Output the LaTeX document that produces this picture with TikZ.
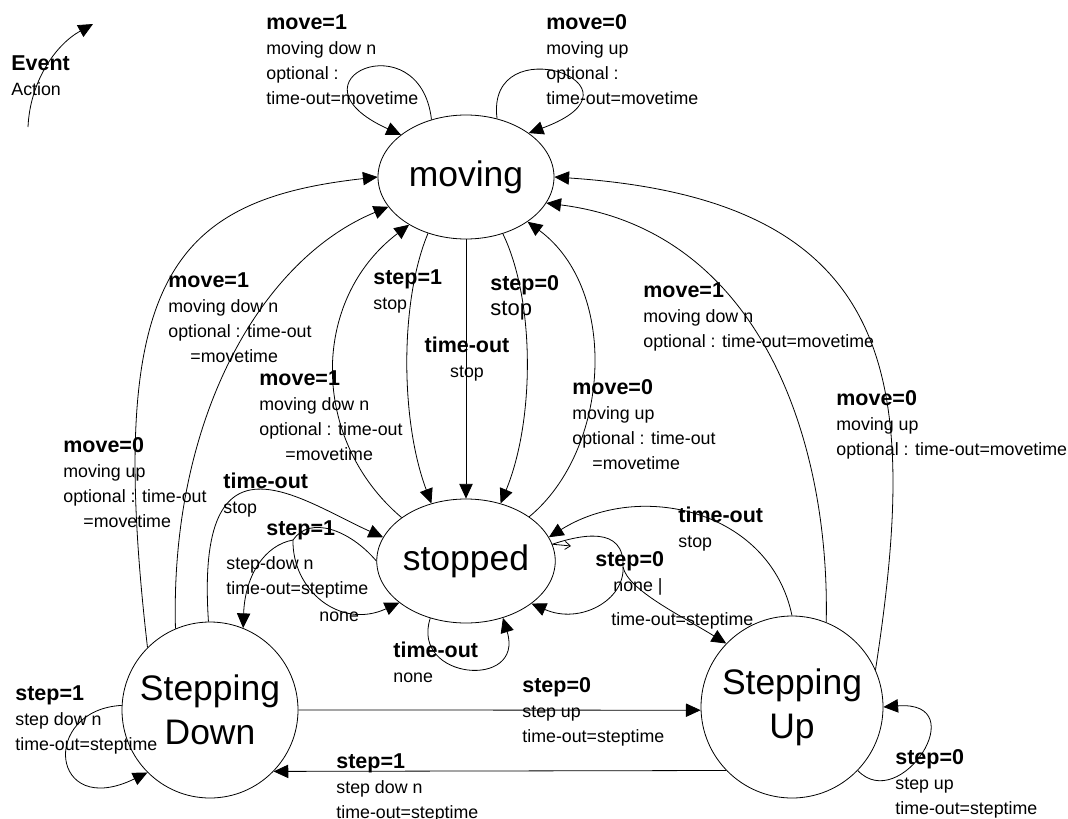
\documentclass[tikz,border=0pt]{standalone}
\usepackage{fontspec}
\setmainfont{Liberation Sans}
\usetikzlibrary{shapes.geometric,arrows.meta}
\newcommand{\ev}[1]{{\bfseries\fontsize{16.1}{18.75}\selectfont #1}}
\begin{document}
\begin{tikzpicture}[x=0.75pt,y=-0.75pt,
  line width=0.6pt,
  arr/.style={-{Triangle[length=11pt,width=10pt]}},
  ell/.style={draw,ellipse,inner sep=0pt,minimum width=132pt,minimum height=93pt,font=\fontsize{26.6}{33}\selectfont},
  circ/.style={draw,circle,inner sep=0pt,align=center,font=\fontsize{26.6}{33}\selectfont},
  lab/.style={anchor=base west,align=left,inner sep=0pt,font=\fontsize{13.35}{18.75}\selectfont},
  labc/.style={anchor=base,align=center,inner sep=0pt,font=\fontsize{13.35}{18.75}\selectfont},
]
\useasboundingbox (0,0) rectangle (1068,818);

% states
\node[ell] (moving) at (466,177) {moving};
\node[ell] (stopped) at (466,561) {stopped};
\node[circ,minimum size=132pt] (sd) at (210,710) {Stepping\\Down};
\node[circ,minimum size=136.5pt] (su) at (792,707) {Stepping\\Up};

% free coordinates
\coordinate (legA) at (28,127);
\coordinate (legB) at (93,24);
\coordinate (jL) at (293,540);
\coordinate (jR) at (623,567);
\coordinate (tk) at (571,546);

% legend
\draw[arr] (legA) .. controls (30,82) and (55,45) .. (legB);
\node[lab] (legend) at (11,95) {\ev{Event}\\Action};

% self loops on moving
\draw[arr] (moving.121) .. controls (420,20) and (280,80) .. (moving.147);
\draw[arr] (moving.62) .. controls (485,25) and (660,85) .. (moving.35);

% into moving from left
\draw[arr] (sd.135) .. controls (105,280) and (170,200) .. (moving.180);
\draw[arr] (sd.113) .. controls (170,420) and (260,260) .. (moving.201);
\draw[arr] (stopped.146) .. controls (310,440) and (310,300) .. (moving.220);

% moving -> stopped
\draw[arr] (moving.236) .. controls (400,300) and (400,420) .. (stopped.121);
\draw[arr] (moving) -- (stopped);
\draw[arr] (moving.-57) .. controls (535,300) and (535,420) .. (stopped.59);

% into moving from right
\draw[arr] (stopped.35) .. controls (610,450) and (620,290) .. (moving.-36);
\draw[arr] (su.68) .. controls (830,440) and (760,230) .. (moving.-18);
\draw[arr] (su.24) .. controls (920,380) and (900,200) .. (moving.0);

% stepping down <-> stopped
\draw[arr] (sd.91) .. controls (195,420) and (300,500) .. (stopped.164);
\draw (stopped.180) .. controls (350,530) and (310,515) .. (jL);
\draw[arr] (jL) .. controls (292,590) and (340,630) .. (stopped.212);
\draw[arr] (jL) .. controls (265,545) and (245,575) .. (sd.68);

% stepping up <-> stopped
\draw[arr] (su.90) .. controls (770,510) and (640,480) .. (stopped.16);
\draw (stopped.11) .. controls (580,535) and (625,525) .. (jR);
\draw[arr] (jR) .. controls (625,600) and (580,625) .. (stopped.-33);
\draw[arr] (jR) .. controls (628,590) and (680,615) .. (su.136);
\draw[-{Straight Barb[length=4pt,width=6pt]}] (stopped.11) -- (tk);

% stopped self loop
\draw[arr] (stopped.238) .. controls (410,680) and (525,690) .. (stopped.303);

% stepping down <-> stepping up
\draw[arr] (sd.0) -- (su.182);
\draw[arr] (su.224) -- (sd.316);

% self loops on stepping states
\draw[arr] (sd.177) .. controls (40,710) and (50,820) .. (sd.225);
\draw[arr] (su.316) .. controls (900,815) and (975,700) .. (su.0);

% labels (anchor = baseline of last line)
\node[lab] (l1) at (266,104) {\ev{move=1}\\moving dow n\\optional :\\time-out=movetime};
\node[lab] (l2) at (546,104) {\ev{move=0}\\moving up\\optional :\\time-out=movetime};
\node[lab] (l3) at (63,527) {\ev{move=0}\\moving up\\optional : time-out\\\hspace*{15pt}=movetime};
\node[lab] (l4) at (168,362) {\ev{move=1}\\moving dow n\\optional : time-out\\\hspace*{16.5pt}=movetime};
\node[lab] (l5) at (259,460) {\ev{move=1}\\moving dow n\\optional : time-out\\\hspace*{19.5pt}=movetime};
\node[lab] (l6) at (373,309) {\ev{step=1}\\stop};
\node[lab] (l7) at (490,315) {\ev{step=0}\\{\fontsize{16.5}{18.75}\selectfont stop}};
\node[labc] (l8) at (467,377) {\ev{time-out}\\stop};
\node[lab] (l9) at (572,469) {\ev{move=0}\\moving up\\optional : time-out\\\hspace*{15pt}=movetime};
\node[lab] (l10) at (643,347) {\ev{move=1}\\moving dow n\\optional : time-out=movetime};
\node[lab] (l11) at (836,455) {\ev{move=0}\\moving up\\optional : time-out=movetime};
\node[lab] (l12) at (223,513) {\ev{time-out}\\stop};
\node[lab] (l13a) at (266,535) {\ev{step=1}};
\node[lab] (l13b) at (226,594) {step-dow n\\time-out=steptime};
\node[lab] (l13c) at (319,621) {none};
\node[lab] (l14a) at (595,566) {\ev{step=0}};
\node[lab] (l14b) at (613,591) {none |};
\node[lab] (l14c) at (611,625) {time-out=steptime};
\node[lab] (l15) at (678,547) {\ev{time-out}\\stop};
\node[lab] (l16) at (393,682) {\ev{time-out}\\none};
\node[lab] (l17) at (522,742) {\ev{step=0}\\step up\\time-out=steptime};
\node[lab] (l18) at (336,818) {\ev{step=1}\\step dow n\\time-out=steptime};
\node[lab] (l19) at (15,750) {\ev{step=1}\\step dow n\\time-out=steptime};
\node[lab] (l20) at (895,814) {\ev{step=0}\\step up\\time-out=steptime};
\end{tikzpicture}
\end{document}
